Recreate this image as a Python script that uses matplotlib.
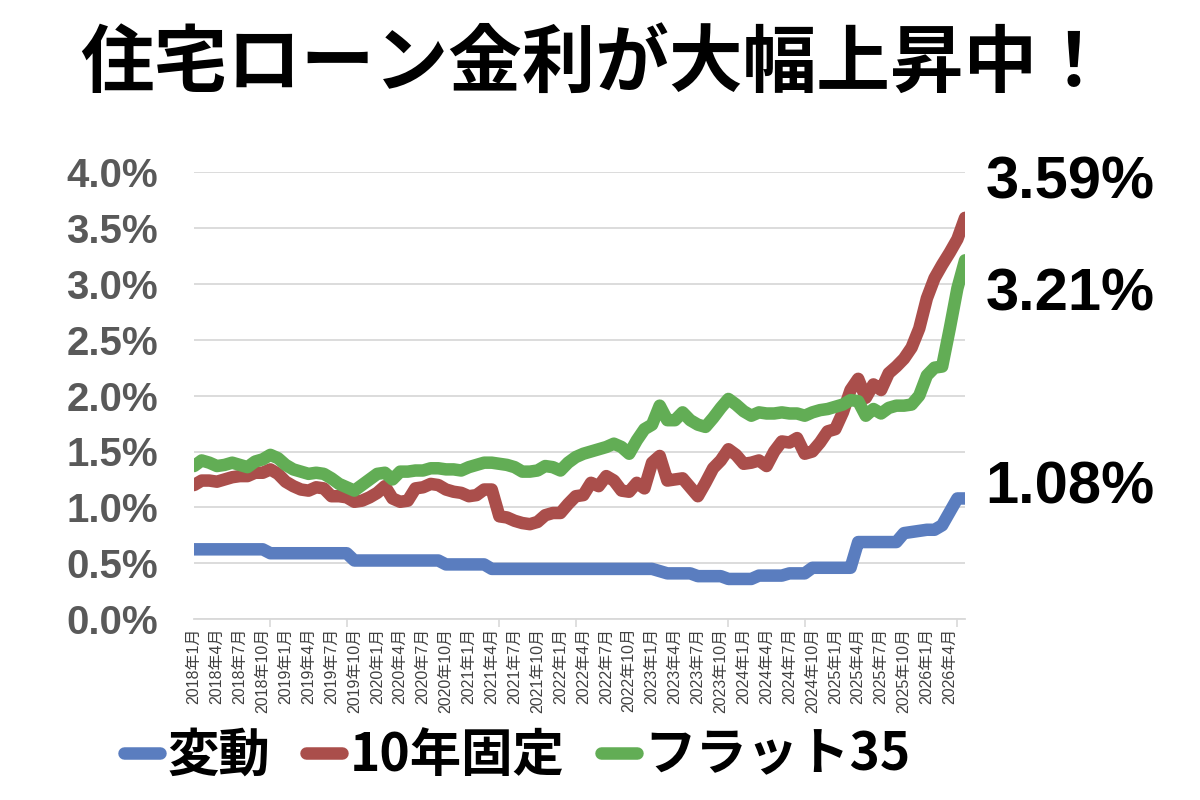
import matplotlib
matplotlib.use("Agg")
import matplotlib.pyplot as plt
from matplotlib.ticker import FixedLocator, FuncFormatter

# monthly rates (%), 2018年1月 .. 2026年6月
months = [f"{2018 + i // 12}年{i % 12 + 1}月" for i in range(102)]

hendou = [0.625] * 10 + [0.59] * 11 + [0.525] * 12 + [0.49] * 6 + [0.45] * 22 + [
    0.43, 0.41, 0.41, 0.41, 0.41, 0.385, 0.385, 0.385, 0.385, 0.36, 0.36, 0.36, 0.36,
    0.39, 0.39, 0.39, 0.39, 0.41, 0.41, 0.41,
    0.46, 0.46, 0.46, 0.46, 0.46, 0.46,
    0.69, 0.69, 0.69, 0.69, 0.69, 0.69,
    0.77, 0.78, 0.79, 0.80, 0.80, 0.84, 0.96, 1.08, 1.08]

kotei10 = [
    1.20, 1.24, 1.24, 1.23, 1.25, 1.27, 1.28, 1.28, 1.31, 1.31,
    1.34, 1.30, 1.23, 1.19, 1.16, 1.15, 1.18, 1.17, 1.10, 1.10,
    1.09, 1.05, 1.06, 1.09, 1.13, 1.19, 1.08, 1.05, 1.06, 1.17,
    1.18, 1.21, 1.20, 1.16, 1.14, 1.13, 1.10, 1.11, 1.16, 1.16,
    0.92, 0.91, 0.88, 0.86, 0.85, 0.87, 0.93, 0.95, 0.95, 1.03,
    1.10, 1.11, 1.22, 1.19, 1.28, 1.24, 1.15, 1.14, 1.22, 1.17,
    1.40, 1.46, 1.24, 1.25, 1.26, 1.18, 1.10, 1.22, 1.35, 1.42,
    1.52, 1.47, 1.39, 1.40, 1.42, 1.37, 1.50, 1.59, 1.58, 1.62,
    1.48, 1.50, 1.58, 1.68, 1.70, 1.85, 2.05, 2.15, 1.98, 2.10,
    2.05, 2.20, 2.26, 2.33, 2.43, 2.60, 2.87, 3.05, 3.17, 3.28,
    3.40, 3.59]

flat35 = [
    1.37, 1.42, 1.40, 1.37, 1.38, 1.40, 1.38, 1.36, 1.41, 1.43,
    1.47, 1.44, 1.38, 1.34, 1.32, 1.30, 1.31, 1.30, 1.26, 1.21,
    1.18, 1.15, 1.20, 1.25, 1.30, 1.31, 1.25, 1.32, 1.32, 1.33,
    1.33, 1.35, 1.35, 1.34, 1.34, 1.33, 1.36, 1.38, 1.40, 1.40,
    1.39, 1.38, 1.36, 1.32, 1.32, 1.33, 1.37, 1.36, 1.33, 1.40,
    1.45, 1.48, 1.50, 1.52, 1.54, 1.57, 1.54, 1.48, 1.60, 1.70,
    1.74, 1.91, 1.78, 1.78, 1.85, 1.78, 1.74, 1.72, 1.80, 1.89,
    1.97, 1.92, 1.86, 1.82, 1.85, 1.84, 1.84, 1.85, 1.84, 1.84,
    1.82, 1.85, 1.87, 1.88, 1.90, 1.92, 1.96, 1.95, 1.82, 1.88,
    1.84, 1.89, 1.91, 1.91, 1.92, 2.00, 2.18, 2.25, 2.26, 2.60,
    2.96, 3.21]

series_names = ["変動", "10年固定", "フラット35"]
colors = ["#5A7DBF", "#AA4E4B", "#62AD55"]

plt.rcParams['font.family'] = ['Liberation Sans', 'Noto Sans CJK JP', 'DejaVu Sans']

fig = plt.figure(figsize=(12, 8), dpi=100)
ax = fig.add_axes([0.1617, 0.226, 0.6425, 0.559])

x = list(range(len(months)))
for vals, name, c in zip([hendou, kotei10, flat35], series_names, colors):
    ax.plot(x, vals, color=c, lw=9, label=name,
            solid_joinstyle='round', solid_capstyle='round')

ax.set_xlim(0, len(months) - 1)
ax.set_ylim(0, 4.0)

# y axis
ax.set_yticks([i * 0.5 for i in range(9)])
ax.yaxis.set_major_formatter(FuncFormatter(lambda v, p: f"{v:.1f}%"))
ax.tick_params(axis='y', length=0, pad=26, labelsize=29, labelcolor='#595959')
for t in ax.get_yticklabels():
    t.set_fontweight('bold')
ax.grid(axis='y', color='#D9D9D9', lw=1.3)
ax.set_axisbelow(True)

# x axis: labels every 3 months, tick marks every 10 months
ax.set_xticks(x[::3])
ax.set_xticklabels(months[::3], rotation=90, fontsize=11.5, color='#404040')
ax.tick_params(axis='x', length=0, pad=6)
ax.xaxis.set_minor_locator(FixedLocator(x[::10]))
ax.tick_params(axis='x', which='minor', length=6, color='#D9D9D9', width=1.2)

for s in ['top', 'right', 'left']:
    ax.spines[s].set_visible(False)
ax.spines['bottom'].set_color('#D9D9D9')
ax.spines['bottom'].set_linewidth(1.3)

# end-value labels
fig.text(0.821, 0.771, f"{kotei10[-1]:.2f}%", fontsize=43, fontweight='bold', va='center')
fig.text(0.821, 0.631, f"{flat35[-1]:.2f}%", fontsize=43, fontweight='bold', va='center')
fig.text(0.821, 0.390, f"{hendou[-1]:.2f}%", fontsize=43, fontweight='bold', va='center')

fig.text(0.496, 0.919, "住宅ローン金利が大幅上昇中！", fontsize=53, fontweight='bold',
         ha='center', va='center', family=['Noto Sans CJK JP', 'DejaVu Sans'])

leg = fig.legend(loc='center', bbox_to_anchor=(0.431, 0.056), ncol=3, frameon=False,
                 handlelength=0.7, handletextpad=0.15, columnspacing=0.7,
                 prop={'family': ['Noto Sans CJK JP', 'DejaVu Sans'], 'weight': 'bold', 'size': 37})

fig.savefig("out.png", dpi=100)
